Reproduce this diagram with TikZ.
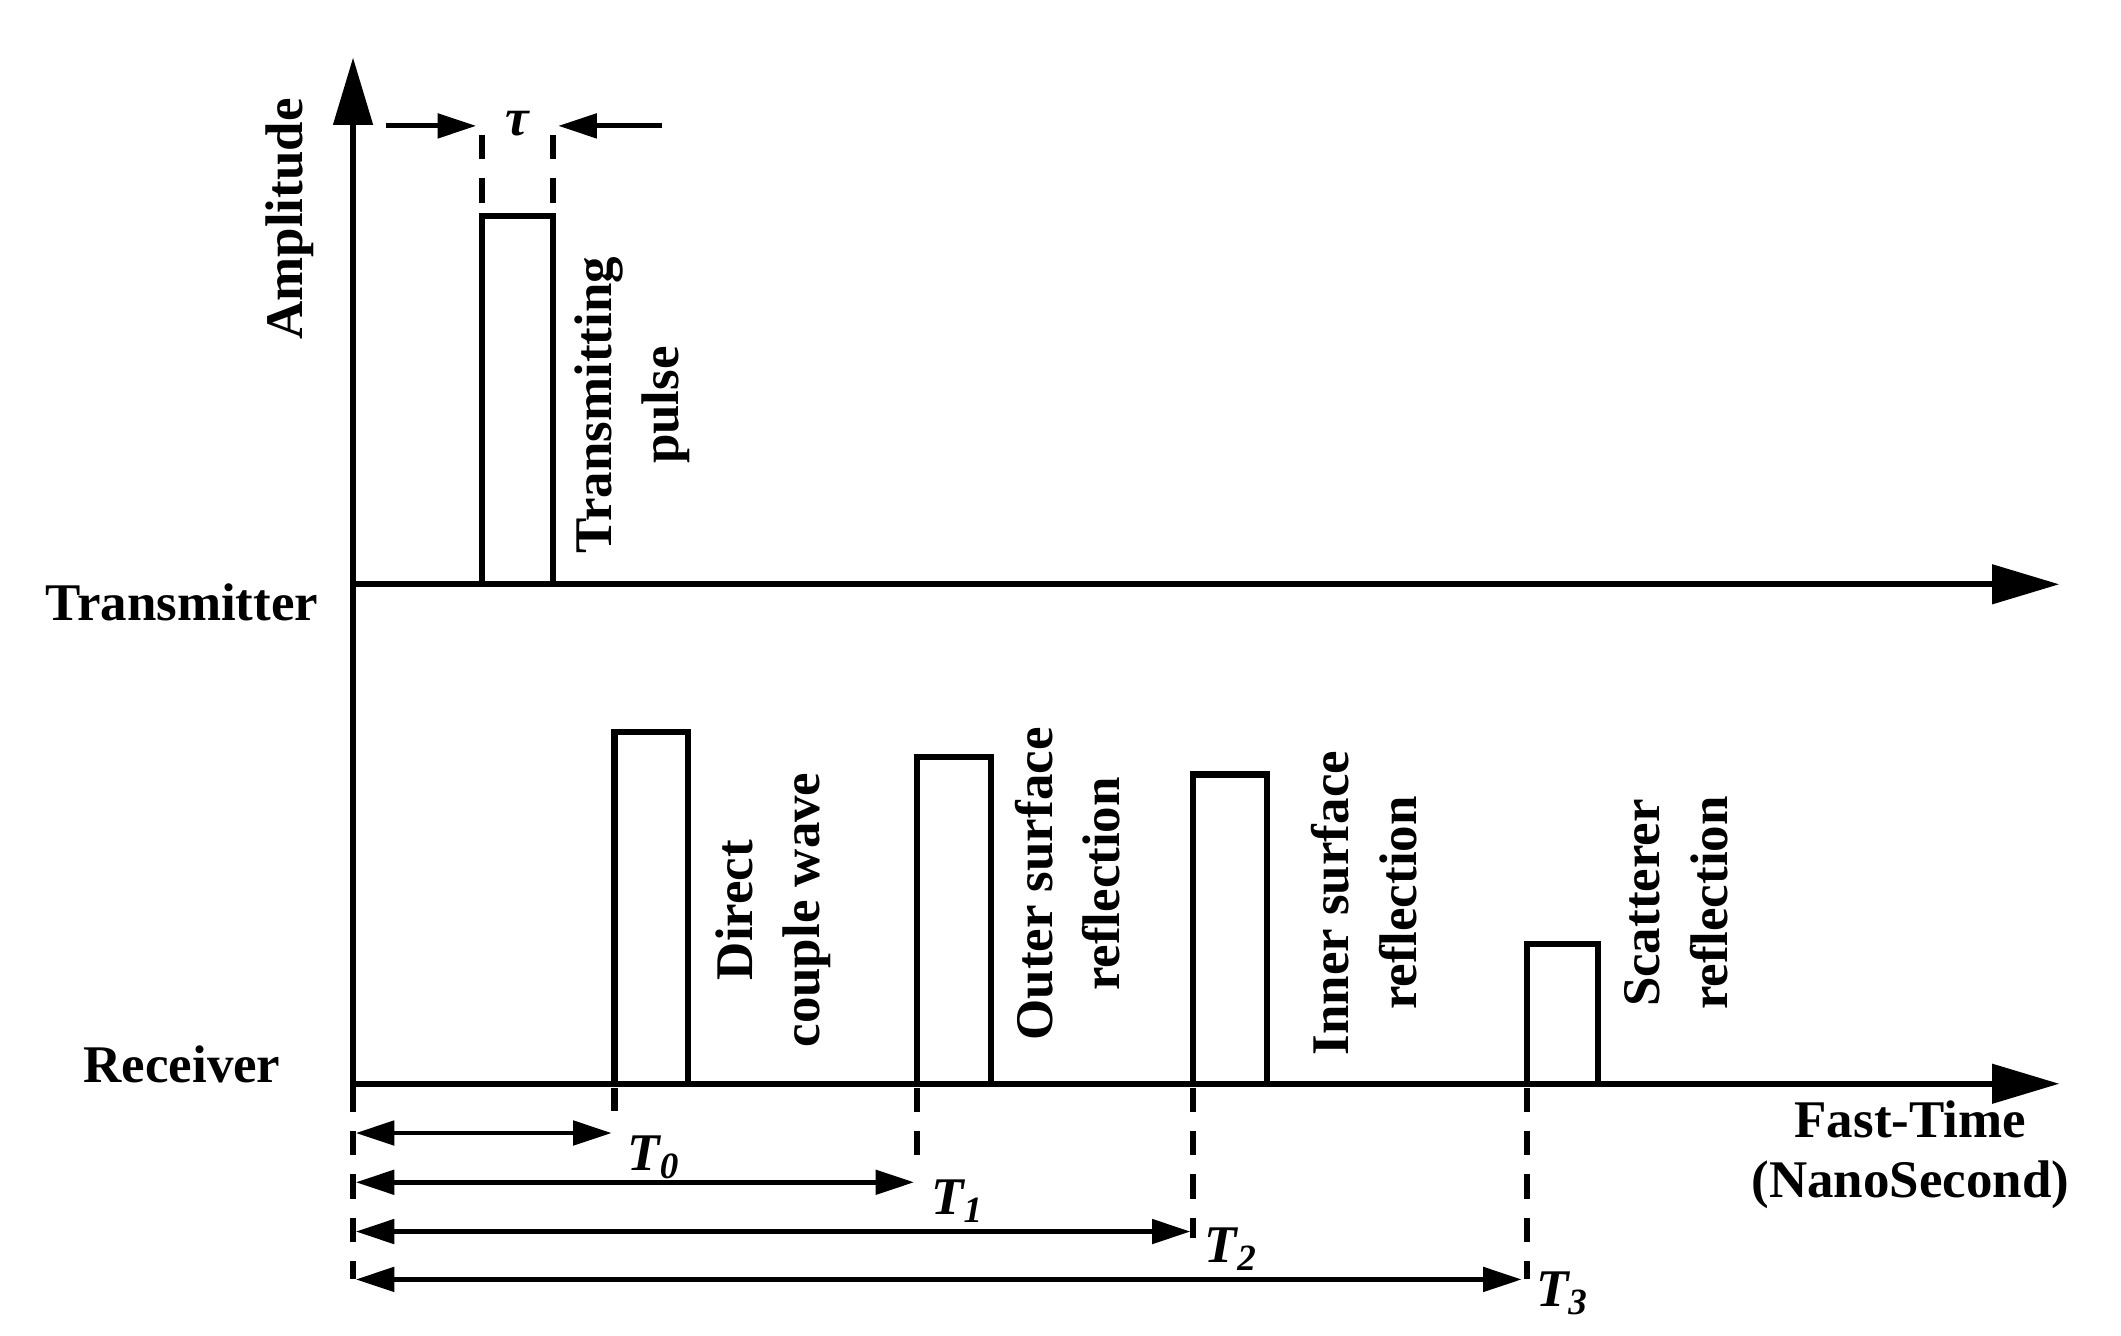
\documentclass[tikz,border=0pt]{standalone}
\usepackage{fontspec}
\setmainfont{Liberation Serif}
\usetikzlibrary{arrows.meta}
\begin{document}
\begin{tikzpicture}[x=0.01cm,y=-0.01cm,line width=1.3pt,
 ax/.style={-{Triangle[length=14pt,width=8pt]}},
 dim/.style={{Triangle[length=8pt,width=5pt]}-{Triangle[length=8pt,width=5pt]},line width=1pt},
 sarr/.style={-{Triangle[length=8pt,width=5pt]},line width=1pt},
 dsh/.style={dash pattern=on 5pt off 4pt,line width=1.3pt},
 lab/.style={font=\bfseries\fontsize{11}{14}\selectfont,align=center},
 rl/.style={lab,rotate=90},
 tl/.style={font=\bfseries\itshape\fontsize{11}{13}\selectfont}]
\useasboundingbox (0,0) rectangle (1550,976);
\draw[ax] (258,795) -- (258,42);
\draw[ax] (258,427) -- (1505,427);
\draw[ax] (258,792) -- (1505,792);
% transmit pulse
\draw (352,427) -- (352,158) -- (404,158) -- (404,427);
\draw[dsh] (352,148) -- (352,88);
\draw[dsh] (404,148) -- (404,88);
\draw[sarr] (282,92) -- (348,92);
\draw[sarr] (484,92) -- (408,92);
\node[tl] at (378,90) {τ};
% receiver pulses
\draw (449,792) -- (449,535) -- (503,535) -- (503,792);
\draw (670,792) -- (670,553) -- (724,553) -- (724,792);
\draw (872,792) -- (872,566) -- (926,566) -- (926,792);
\draw (1116,792) -- (1116,690) -- (1168,690) -- (1168,792);
% dashed
\draw[dsh] (258,795) -- (258,935);
\draw[dsh] (449,795) -- (449,812);
\draw[dsh] (670,795) -- (670,852);
\draw[dsh] (872,795) -- (872,905);
\draw[dsh] (1116,795) -- (1116,935);
\draw[dim] (260,828) -- (447,828);
\draw[dim] (260,864) -- (668,864);
\draw[dim] (260,900) -- (870,900);
\draw[dim] (260,935) -- (1112,935);
\node[tl] at (478,846) {T\textsubscript{0}};
\node[tl] at (700,878) {T\textsubscript{1}};
\node[tl] at (900,913) {T\textsubscript{2}};
\node[tl] at (1142,945) {T\textsubscript{3}};
% labels
\node[rl] at (212,160) {Amplitude};
\node[lab] at (133,440) {Transmitter};
\node[lab] at (133,778) {Receiver};
\node[lab] at (1396,818) {Fast-Time};
\node[lab] at (1396,866) {(NanoSecond)};
\node[rl] at (462,296) {Transmitting\\pulse};
\node[rl] at (565,665) {Direct\\couple wave};
\node[rl] at (780,646) {Outer surface\\reflection};
\node[rl] at (997,660) {Inner surface\\reflection};
\node[rl] at (1225,660) {Scatterer\\reflection};
\end{tikzpicture}
\end{document}
